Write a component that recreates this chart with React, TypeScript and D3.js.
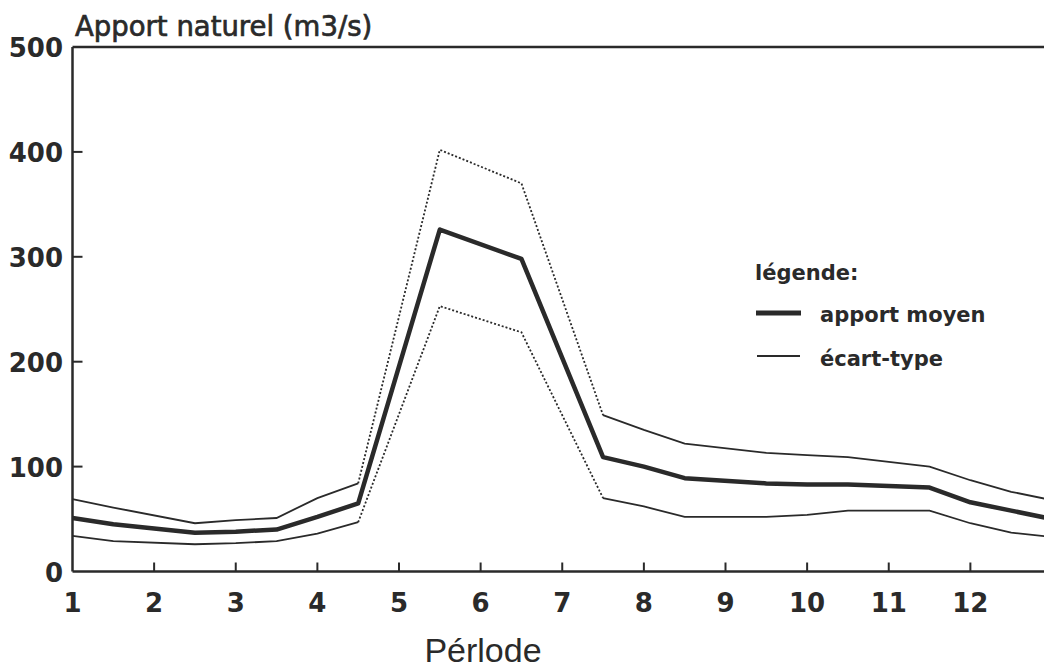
import React from "react";
import * as d3 from "d3";

const periods = [1, 1.5, 2.5, 3, 3.5, 4, 4.5, 5.5, 6.5, 7.5, 8, 8.5, 9.5, 10, 10.5, 11.5, 12, 12.5, 13];
const meanValues = [51, 45, 37, 38, 40, 52, 65, 326, 298, 109, 100, 89, 84, 83, 83, 80, 66, 58, 50];
const upperValues = [69, 61, 46, 49, 51, 70, 84, 402, 370, 149, 135, 122, 113, 111, 109, 100, 87, 76, 68];
const lowerValues = [34, 29, 26, 27, 29, 36, 47, 253, 228, 70, 62, 52, 52, 54, 58, 58, 46, 37, 33];
const xTicks = [1, 2, 3, 4, 5, 6, 7, 8, 9, 10, 11, 12];
const yTicks = [0, 100, 200, 300, 400, 500];
const dottedRange = [4.5, 7.5];

const W = 1044;
const H = 671;
const FONT = "'DejaVu Sans', Arial, sans-serif";
const FONT2 = "'Liberation Sans', Arial, sans-serif";
const INK = "#2a2a2a";

export default function App() {
  const x = d3.scaleLinear().domain([1, 13]).range([72.5, 1052]);
  const y = d3.scaleLinear().domain([0, 500]).range([571.5, 47]);
  const line = d3
    .line<number>()
    .x((_, i) => x(periods[i]))
    .y((d) => y(d));

  const lineXY = d3
    .line<[number, number]>()
    .x((d) => x(d[0]))
    .y((d) => y(d[1]));

  const parts = (vals: number[]) => {
    const before: [number, number][] = [];
    const mid: [number, number][] = [];
    const after: [number, number][] = [];
    periods.forEach((p, i) => {
      if (p <= dottedRange[0]) before.push([p, vals[i]]);
      if (p >= dottedRange[0] && p <= dottedRange[1]) mid.push([p, vals[i]]);
      if (p >= dottedRange[1]) after.push([p, vals[i]]);
    });
    return { before, mid, after };
  };

  return (
    <svg width={W} height={H} style={{ position: "absolute", left: 0, top: 0, background: "#fff" }}>
      <rect x={0} y={0} width={W} height={H} fill="#fff" />
      {/* title */}
      <text
        x={75}
        y={36}
        fontFamily={FONT}
        fontSize={27.5}
        fill={INK}
        stroke={INK}
        strokeWidth={0.7}
      >
        Apport naturel (m3/s)
      </text>
      {/* frame */}
      <line x1={x(1)} x2={W} y1={y(500)} y2={y(500)} stroke={INK} strokeWidth={2.5} />
      <line x1={x(1)} x2={x(1)} y1={y(500)} y2={y(0)} stroke={INK} strokeWidth={2.5} />
      <line x1={x(1)} x2={W} y1={y(0)} y2={y(0)} stroke={INK} strokeWidth={2.5} />
      {/* y ticks */}
      {yTicks.map((t) => (
        <g key={"y" + t}>
          {t > 0 && t < 500 && (
            <line x1={x(1)} x2={x(1) + 10} y1={y(t)} y2={y(t)} stroke={INK} strokeWidth={2} />
          )}
          <text
            x={63}
            y={y(t) + 10}
            textAnchor="end"
            fontFamily={FONT}
            fontWeight="bold"
            fontSize={26}
            fill={INK}
          >
            {t}
          </text>
        </g>
      ))}
      {/* x ticks */}
      {xTicks.map((t) => (
        <g key={"x" + t}>
          {t > 1 && (
            <line x1={x(t)} x2={x(t)} y1={y(0)} y2={y(0) - 9} stroke={INK} strokeWidth={2} />
          )}
          <text
            x={x(t)}
            y={612}
            textAnchor="middle"
            fontFamily={FONT}
            fontWeight="bold"
            fontSize={26}
            fill={INK}
          >
            {t}
          </text>
        </g>
      ))}
      <text x={483} y={662} textAnchor="middle" fontFamily={FONT2} fontSize={34} fill={INK}>
        Pérlode
      </text>
      {/* std lines */}
      {[upperValues, lowerValues].map((vals, k) => {
        const p = parts(vals);
        return (
          <g key={"s" + k}>
            <path d={lineXY(p.before) || ""} fill="none" stroke={INK} strokeWidth={1.8} />
            <path d={lineXY(p.after) || ""} fill="none" stroke={INK} strokeWidth={1.8} />
            <path
              d={lineXY(p.mid) || ""}
              fill="none"
              stroke={INK}
              strokeWidth={1.8}
              strokeDasharray="2 2"
            />
          </g>
        );
      })}
      {/* mean */}
      <path d={line(meanValues) || ""} fill="none" stroke={INK} strokeWidth={4.5} strokeLinejoin="round" />
      {/* legend */}
      <text x={755} y={280} fontFamily={FONT} fontWeight="bold" fontSize={21} fill={INK}>
        légende:
      </text>
      <line x1={756} x2={801} y1={313} y2={313} stroke={INK} strokeWidth={5} />
      <text x={820} y={322} fontFamily={FONT} fontWeight="bold" fontSize={21} fill={INK}>
        apport moyen
      </text>
      <line x1={757} x2={800} y1={356} y2={356} stroke={INK} strokeWidth={2} />
      <text x={820} y={366} fontFamily={FONT} fontWeight="bold" fontSize={21} fill={INK}>
        écart-type
      </text>
    </svg>
  );
}
